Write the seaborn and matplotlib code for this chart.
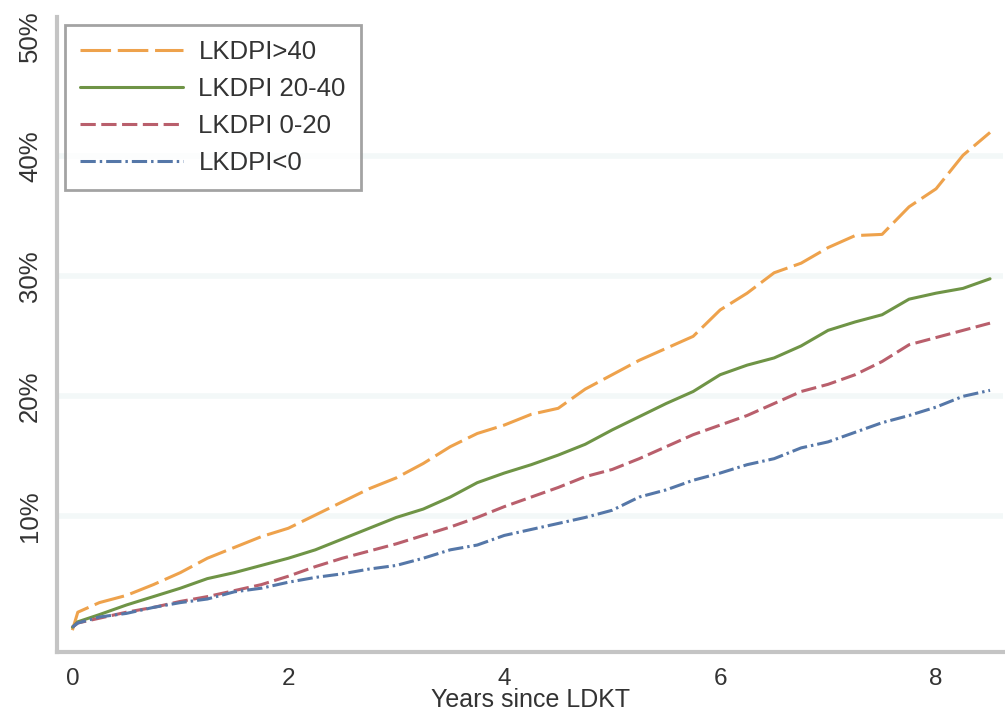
import pandas as pd
import seaborn as sns
import matplotlib.pyplot as plt
from matplotlib.ticker import FuncFormatter

# ==========================================
# DATA (cumulative incidence, %)
# ==========================================
years = [0, 0.05, 0.25, 0.5, 0.75, 1, 1.25, 1.5, 1.75, 2, 2.25, 2.5, 2.75, 3,
         3.25, 3.5, 3.75, 4, 4.25, 4.5, 4.75, 5, 5.25, 5.5, 5.75, 6, 6.25,
         6.5, 6.75, 7, 7.25, 7.5, 7.75, 8, 8.25, 8.5]

lkdpi_gt40 = [0.5, 2.0, 2.8, 3.4, 4.3, 5.3, 6.5, 7.4, 8.3, 9.0, 10.1, 11.2, 12.3, 13.2,
              14.4, 15.8, 16.9, 17.6, 18.5, 19.0, 20.6, 21.8, 23.0, 24.0, 25.0, 27.2, 28.6,
              30.3, 31.1, 32.4, 33.4, 33.5, 35.8, 37.3, 40.1, 42.0]
lkdpi_20_40 = [0.75, 1.2, 1.8, 2.6, 3.3, 4.0, 4.8, 5.3, 5.9, 6.5, 7.2, 8.1, 9.0, 9.9,
               10.6, 11.6, 12.8, 13.6, 14.3, 15.1, 16.0, 17.2, 18.3, 19.4, 20.4, 21.8, 22.6,
               23.2, 24.2, 25.5, 26.2, 26.8, 28.1, 28.6, 29.0, 29.8]
lkdpi_0_20 = [0.75, 1.1, 1.5, 2.0, 2.4, 2.9, 3.3, 3.8, 4.3, 5.0, 5.8, 6.5, 7.1, 7.7,
              8.4, 9.1, 9.9, 10.8, 11.6, 12.4, 13.3, 13.9, 14.8, 15.8, 16.8, 17.6, 18.4,
              19.4, 20.4, 21.0, 21.8, 22.9, 24.3, 24.9, 25.5, 26.1]
lkdpi_lt0 = [0.75, 1.1, 1.6, 1.9, 2.4, 2.8, 3.1, 3.7, 4.0, 4.5, 4.9, 5.2, 5.6, 5.9,
             6.5, 7.2, 7.6, 8.4, 8.9, 9.4, 9.9, 10.5, 11.6, 12.2, 13.0, 13.6, 14.3,
             14.8, 15.7, 16.2, 17.0, 17.8, 18.4, 19.1, 20.0, 20.5]

groups = ['LKDPI>40', 'LKDPI 20-40', 'LKDPI 0-20', 'LKDPI<0']
series = [lkdpi_gt40, lkdpi_20_40, lkdpi_0_20, lkdpi_lt0]

df = pd.concat([pd.DataFrame({'years': years, 'inc': [v / 100 for v in vals], 'group': g})
                for g, vals in zip(groups, series)], ignore_index=True)

# ==========================================
# STYLE
# ==========================================
sns.set_style('white')
plt.rcParams['font.family'] = ['Liberation Sans', 'DejaVu Sans']

palette = {'LKDPI>40': '#eea24c', 'LKDPI 20-40': '#6f9446',
           'LKDPI 0-20': '#b95f6c', 'LKDPI<0': '#5577a8'}
dashes = {'LKDPI>40': (10, 2.2), 'LKDPI 20-40': '',
          'LKDPI 0-20': (5, 1.8), 'LKDPI<0': (5, 1.3, 0.8, 1.3)}

fig = plt.figure(figsize=(10.05, 7.21), dpi=100)
ax = fig.add_axes([0.057, 0.096, 0.941, 0.880])

sns.lineplot(data=df, x='years', y='inc', hue='group', style='group',
             hue_order=groups, style_order=groups, palette=palette, dashes=dashes,
             linewidth=2.2, ax=ax)

ax.set_xlim(-0.14, 8.62)
ax.set_ylim(-0.013, 0.516)
ax.set_xticks([0, 2, 4, 6, 8])
ax.set_yticks([0.1, 0.2, 0.3, 0.4, 0.5])
ax.yaxis.set_major_formatter(FuncFormatter(lambda v, p: f'{v * 100:.0f}%'))

# pale horizontal grid (no line at 50%)
for g in [0.1, 0.2, 0.3, 0.4]:
    ax.axhline(g, color='#f3f8f8', linewidth=4, zorder=0)

for side in ['top', 'right']:
    ax.spines[side].set_visible(False)
for side in ['left', 'bottom']:
    ax.spines[side].set_color('#c4c4c4')
    ax.spines[side].set_linewidth(3)

ax.tick_params(axis='both', colors='#bdbdbd', length=8, width=2,
               labelcolor='#333333', labelsize=17.5)
ax.tick_params(axis='y', labelrotation=90, labelsize=18.5, pad=3)
for lbl in ax.get_yticklabels():
    lbl.set_va('center')

ax.set_xlabel('Years since LDKT', fontsize=18, color='#333333', labelpad=-1)
ax.set_ylabel('')

leg = ax.legend(loc='upper left', bbox_to_anchor=(0.008, 0.988), fontsize=18.5,
                frameon=True, fancybox=False, handlelength=4.0, handletextpad=0.6,
                labelspacing=0.5, borderpad=0.6, borderaxespad=0)
leg.get_frame().set_edgecolor('#8c8c8c')
leg.get_frame().set_linewidth(2)
for t in leg.get_texts():
    t.set_color('#333333')

fig.savefig('out.png', dpi=100)
